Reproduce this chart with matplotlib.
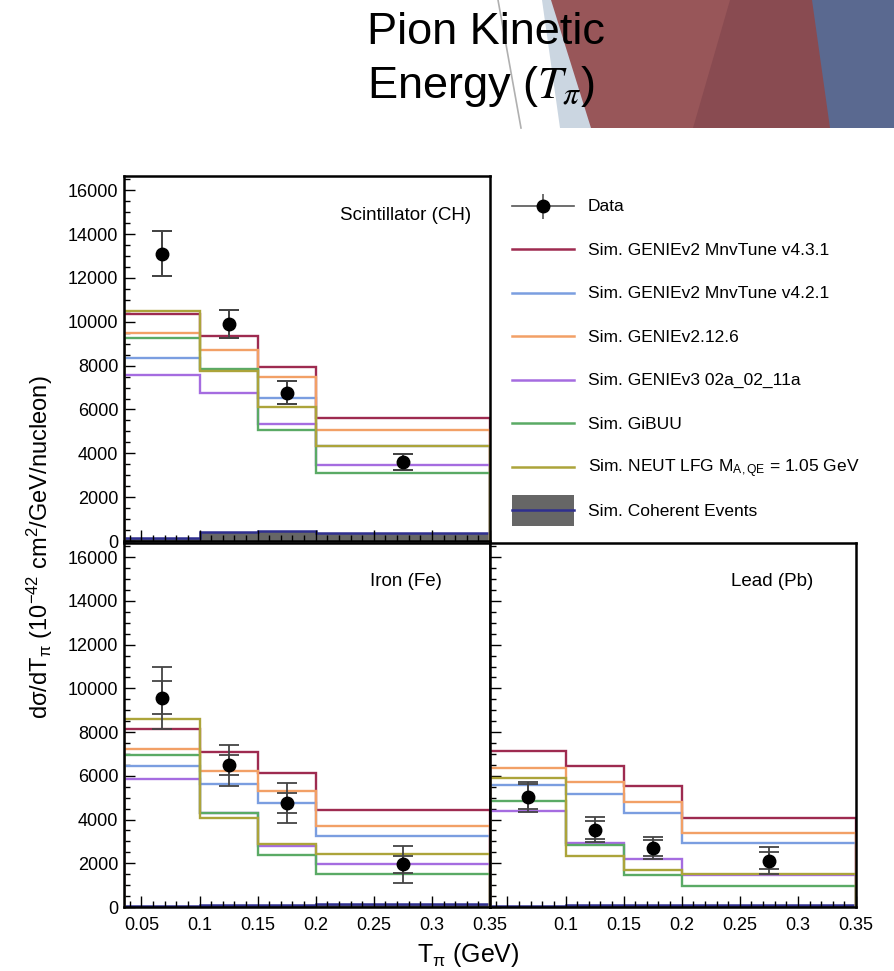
import matplotlib
matplotlib.use('Agg')
import matplotlib.pyplot as plt
from matplotlib.lines import Line2D
from matplotlib.patches import Patch, Polygon
from matplotlib.legend_handler import HandlerLine2D
from matplotlib.ticker import FixedLocator, MultipleLocator, FuncFormatter

plt.rcParams['font.family'] = ['Liberation Sans', 'DejaVu Sans']
plt.rcParams['mathtext.fontset'] = 'custom'
plt.rcParams['mathtext.rm'] = 'Liberation Sans'
plt.rcParams['mathtext.it'] = 'Liberation Sans:italic'
plt.rcParams['mathtext.bf'] = 'Liberation Sans:bold'

# ---------------- data ----------------
bin_edges = [0.035, 0.1, 0.15, 0.2, 0.35]
bin_centers = [0.0675, 0.125, 0.175, 0.275]
x_ticks = [0.05, 0.1, 0.15, 0.2, 0.25, 0.3, 0.35]

panel_names = ['Scintillator (CH)', 'Iron (Fe)', 'Lead (Pb)']

data_ch = [13100, 9890, 6770, 3590]
err_tot_ch = [1030, 650, 520, 360]
err_stat_ch = [1030, 650, 520, 360]

data_fe = [9580, 6480, 4770, 1950]
err_tot_fe = [1420, 930, 910, 830]
err_stat_fe = [770, 450, 450, 400]

data_pb = [5040, 3540, 2710, 2120]
err_tot_pb = [700, 560, 500, 610]
err_stat_pb = [580, 410, 360, 380]

model_labels = ['Sim. GENIEv2 MnvTune v4.3.1',
                'Sim. GENIEv2 MnvTune v4.2.1',
                'Sim. GENIEv2.12.6',
                'Sim. GENIEv3 02a_02_11a',
                'Sim. GiBUU',
                r'Sim. NEUT LFG M$_{\mathregular{A,QE}}$ = 1.05 GeV']
model_colors = ['#9e2b50', '#7b9ee0', '#f2a066', '#a56ce0', '#5aaa65', '#aca43a']

mc_ch = [[10350, 9330, 7930, 5600],
         [8330, 7800, 6530, 4320],
         [9470, 8720, 7460, 5070],
         [7560, 6770, 5330, 3450],
         [9250, 7850, 5050, 3090],
         [10470, 7750, 6090, 4320]]
mc_fe = [[8150, 7090, 6140, 4450],
         [6430, 5640, 4780, 3250],
         [7210, 6220, 5300, 3690],
         [5840, 4300, 2800, 1950],
         [6950, 4310, 2390, 1520],
         [8610, 4070, 2900, 2440]]
mc_pb = [[7130, 6460, 5550, 4080],
         [5590, 5150, 4300, 2930],
         [6340, 5730, 4800, 3380],
         [4370, 2940, 2180, 1480],
         [4860, 2830, 1480, 960],
         [5910, 2320, 1710, 1520]]

coh_ch = [150, 410, 470, 350]
coh_fe = [50, 80, 90, 150]
coh_pb = [60, 70, 70, 70]

coh_label = 'Sim. Coherent Events'
data_label = 'Data'

# ---------------- figure ----------------
W, H = 895, 971
fig = plt.figure(figsize=(W / 100, H / 100), dpi=100)


def fx(x):
    return x / W


def fy(y):
    return 1 - y / H


# slide decoration (top right)
deco = [
    ([(542, 0), (552, 0), (592, 128), (560, 128)], '#cbd6e1'),
    ([(551, 0), (731, 0), (694, 128), (591, 128)], '#985659'),
    ([(730, 0), (813, 0), (831, 128), (693, 128)], '#894b51'),
    ([(812, 0), (895, 0), (895, 128), (830, 128)], '#5a6990'),
]
for pts, c in deco:
    fig.add_artist(Polygon([(fx(a), fy(b)) for a, b in pts], closed=True,
                           transform=fig.transFigure, facecolor=c,
                           edgecolor='none', zorder=0))
fig.add_artist(Line2D([fx(498), fx(521)], [fy(0), fy(128)],
                      transform=fig.transFigure, color='#b0b0b0', lw=1.2, zorder=0))

fig.text(fx(367), fy(44), 'Pion Kinetic', fontsize=32.5, ha='left',
         va='baseline', zorder=5)
fig.text(fx(367), fy(98), r'Energy ($T_\pi$)', fontsize=32.5, ha='left',
         va='baseline', math_fontfamily='stix', zorder=5)

ax_ch = fig.add_axes([fx(124), fy(541), 366 / W, 365 / H])
ax_fe = fig.add_axes([fx(124), fy(907), 366 / W, 364 / H])
ax_pb = fig.add_axes([fx(490), fy(907), 366 / W, 364 / H])

panels = [
    (ax_ch, data_ch, err_tot_ch, err_stat_ch, mc_ch, coh_ch, 0.948),
    (ax_fe, data_fe, err_tot_fe, err_stat_fe, mc_fe, coh_fe, 0.869),
    (ax_pb, data_pb, err_tot_pb, err_stat_pb, mc_pb, coh_pb, 0.883),
]

for i, (ax, d, et, es, mc, coh, lx) in enumerate(panels):
    ax.stairs(coh, bin_edges, baseline=0, fill=True, color='#666666',
              zorder=1)
    ax.stairs(coh, bin_edges, baseline=None, color='#2f2f8f', lw=1.8,
              zorder=1.5)
    for vals, col in zip(mc, model_colors):
        ax.stairs(vals, bin_edges, baseline=0, color=col, lw=1.7, zorder=2)
    ax.errorbar(bin_centers, d, yerr=et, fmt='none', ecolor='#444444',
                elinewidth=1.3, capsize=7.5, capthick=1.3, zorder=3)
    ax.errorbar(bin_centers, d, yerr=es, fmt='o', color='black',
                ecolor='#444444', ms=9, elinewidth=1.3, capsize=7.5,
                capthick=1.3, zorder=4)
    ax.text(lx, 0.893, panel_names[i], transform=ax.transAxes, ha='right',
            va='center', fontsize=13.5)

    ax.set_xlim(0.035, 0.35)
    ax.set_ylim(0, 16650)
    ax.xaxis.set_major_locator(FixedLocator(x_ticks))
    ax.xaxis.set_minor_locator(MultipleLocator(0.01))
    ax.yaxis.set_major_locator(MultipleLocator(2000))
    ax.yaxis.set_minor_locator(MultipleLocator(500))
    ax.tick_params(which='both', direction='in', top=False, right=False,
                   width=1.0, labelsize=13)
    ax.tick_params(which='major', length=8, pad=4)
    ax.tick_params(which='minor', length=4)
    ax.tick_params(axis='x', which='major', pad=7)
    ax.yaxis.set_major_formatter(FuncFormatter(lambda v, p: '%d' % round(v)))
    for s in ax.spines.values():
        s.set_linewidth(1.8)
        s.set_color('black')

ax_ch.tick_params(labelbottom=False)
ax_pb.tick_params(labelleft=False)
ax_fe.xaxis.set_major_formatter(FuncFormatter(lambda v, p: '%g' % round(v, 3)))
ax_pb.xaxis.set_major_formatter(
    FuncFormatter(lambda v, p: '' if abs(v - 0.05) < 1e-6 else '%g' % round(v, 3)))

fig.text(fx(40), fy(547), r'd$\mathregular{\sigma}$/dT$_{\mathregular{π}}$ (10$^{\mathregular{-42}}$ cm$^{\mathregular{2}}$/GeV/nucleon)',
         rotation=90, ha='center', va='center', fontsize=17)
fig.text(fx(468), fy(955), r'T$_{\mathregular{π}}$ (GeV)', ha='center',
         va='center', fontsize=18)


# legend
class CenteredLine(HandlerLine2D):
    def create_artists(self, legend, orig_handle, xdescent, ydescent,
                       width, height, fontsize, trans):
        arts = super().create_artists(legend, orig_handle, xdescent, ydescent,
                                      width, height, fontsize, trans)
        yc = height / 2 - ydescent
        for a in arts:
            if isinstance(a, Line2D):
                a.set_ydata([yc] * len(a.get_xdata()))
        return arts


data_handle = (Line2D([], [], color='#555555', lw=1.2),
               Line2D([], [], marker='|', ls='none', color='#555555', ms=18,
                      mew=1.2),
               Line2D([], [], marker='o', ls='none', color='black', ms=9))
mc_handles = [Line2D([], [], color=c, lw=1.8) for c in model_colors]
coh_handle = (Patch(facecolor='#666666', edgecolor='none'),
              Line2D([], [], color='#2f2f8f', lw=1.8))
fig.legend([data_handle] + mc_handles + [coh_handle],
           [data_label] + model_labels + [coh_label],
           handler_map={Line2D: CenteredLine()},
           loc='upper left', bbox_to_anchor=(fx(512), fy(190.5)),
           frameon=False, fontsize=12.5, handlelength=3.55, handleheight=2.37,
           labelspacing=0.72, handletextpad=0.8, borderpad=0,
           borderaxespad=0)

fig.savefig('out.png', dpi=100)
